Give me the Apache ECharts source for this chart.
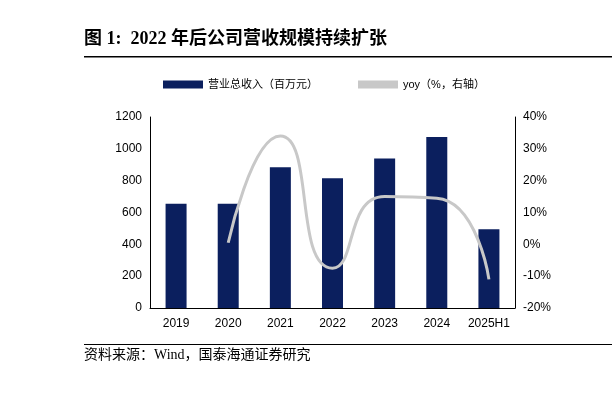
<!DOCTYPE html>
<html><head><meta charset="utf-8">
<script src="https://cdn.jsdelivr.net/npm/echarts@6/dist/echarts.min.js"></script>
<style>body{margin:0;background:#fff}#c{width:612px;height:405px}</style>
</head><body><div id="c"></div>
<script>
var years = ['2019', '2020', '2021', '2022', '2023', '2024', '2025H1'];
var revenue = [655, 655, 885, 815, 940, 1075, 495];
var yoy = [null, 0.5, 34, -7.5, 15, 14.5, -11];

var chart = echarts.init(document.getElementById('c'));
var font = '"Liberation Sans", Arial, "Noto Sans CJK SC", sans-serif';
chart.setOption({
  animation: false,
  graphic: [
    {type: 'text', left: 84, top: 30, style: {text: '图 1:  2022 年后公司营收规模持续扩张', font: 'bold 18px "Liberation Serif", "Noto Sans CJK SC", serif', fill: '#000'}},
    {type: 'rect', shape: {x: 84, y: 56, width: 528, height: 1.5}, style: {fill: '#000'}},
    {type: 'rect', shape: {x: 84, y: 344, width: 528, height: 1}, style: {fill: '#000'}},
    {type: 'text', left: 84, top: 348, style: {text: '资料来源：Wind，国泰海通证券研究', font: '14px "Liberation Serif", "Noto Sans CJK SC", serif', fill: '#000'}}
  ],
  legend: {
    top: 74, left: 158, itemGap: 40, itemWidth: 40, itemHeight: 8,
    textStyle: {fontFamily: font, fontSize: 11, color: '#000'},
    data: [{name: '营业总收入（百万元）', icon: 'rect'}, {name: 'yoy（%，右轴）', icon: 'rect', itemStyle: {color: '#c8c8c8'}}]
  },
  grid: {left: 150, right: 97, top: 117, bottom: 97},
  xAxis: {
    type: 'category', data: years,
    axisLine: {lineStyle: {color: '#000'}}, axisTick: {show: false},
    axisLabel: {color: '#000', fontFamily: font, fontSize: 12, margin: 10, interval: 0}
  },
  yAxis: [
    {type: 'value', min: 0, max: 1200, interval: 200, splitLine: {show: false},
     axisLine: {show: true, lineStyle: {color: '#000'}},
     axisLabel: {color: '#000', fontFamily: font, fontSize: 12, formatter: function (v) { return String(v); }}},
    {type: 'value', min: -20, max: 40, interval: 10, splitLine: {show: false},
     axisLine: {show: true, lineStyle: {color: '#000'}},
     axisLabel: {color: '#000', fontFamily: font, fontSize: 12, formatter: '{value}%'}}
  ],
  series: [
    {name: '营业总收入（百万元）', type: 'bar', data: revenue, barWidth: 21, itemStyle: {color: '#0b1f5e'}},
    {name: 'yoy（%，右轴）', type: 'line', yAxisIndex: 1, data: yoy, smooth: 0.6, showSymbol: false,
     lineStyle: {color: '#c8c8c8', width: 3}, itemStyle: {color: '#c8c8c8'}}
  ]
});
</script></body></html>
